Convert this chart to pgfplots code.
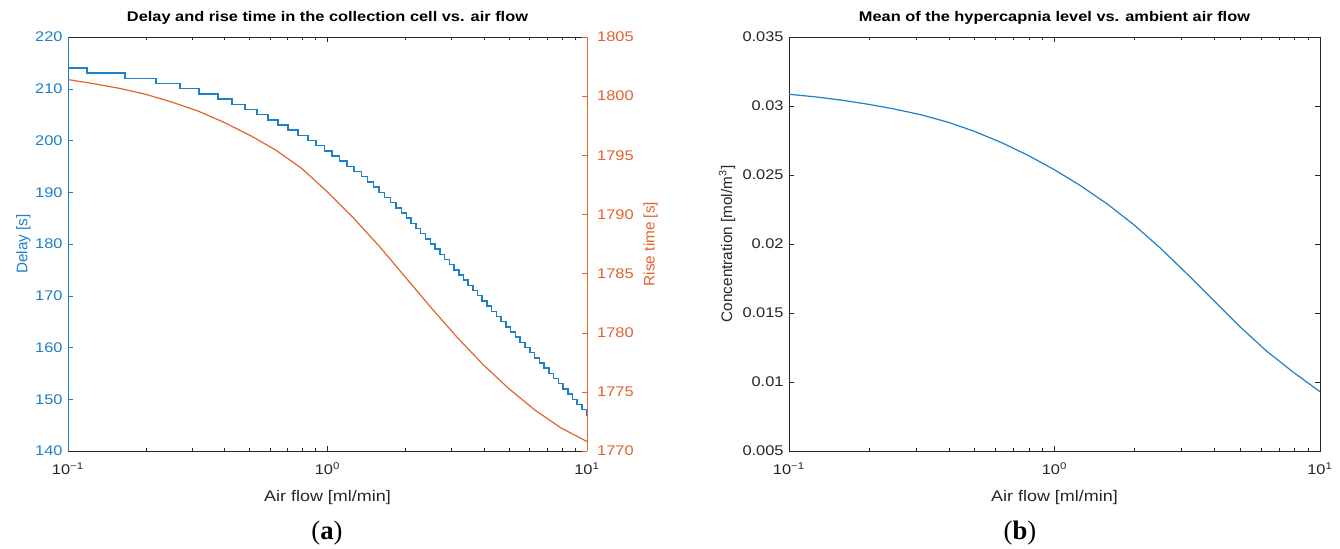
\documentclass[border=0pt]{standalone}
\usepackage{fontspec}
\setmainfont{Liberation Sans}
\newfontfamily\seriffont{Liberation Serif}
\usepackage{pgfplots}
\usepackage{pgfplotstable}
\pgfplotsset{compat=1.18}
\definecolor{mblue}{RGB}{30,128,200}
\definecolor{morange}{RGB}{226,98,48}
\definecolor{axgray}{RGB}{38,38,38}

\pgfplotstableread{
x y
0.1 214
0.1184 213
0.1658 212
0.2183 211
0.2702 210
0.3198 209
0.3785 208
0.4285 207
0.4809 206
0.5350 205
0.5898 204
0.6446 203
0.7044 202
0.7697 201
0.8396 200
0.9030 199
0.9720 198
1.0426 197
1.1123 196
1.1878 195
1.2673 194
1.3521 193
1.4274 192
1.5014 191
1.5792 190
1.6612 189
1.7459 188
1.8365 187
1.9266 186
2.0122 185
2.0997 184
2.1911 183
2.2864 182
2.3858 181
2.4897 180
2.5980 179
2.7110 178
2.8290 177
2.9520 176
3.0778 175
3.2089 174
3.3455 173
3.4849 172
3.6333 171
3.7881 170
3.9460 169
4.1140 168
4.2891 167
4.4718 166
4.6620 165
4.8650 164
5.0766 163
5.2974 162
5.5278 161
5.7685 160
6.0199 159
6.2818 158
6.5550 157
6.8402 156
7.1381 155
7.4421 154
7.7590 153
8.0894 152
8.4338 151
8.7930 150
9.1676 149
9.5493 148
9.9557 147
10 147
}\delaytab

\pgfplotstableread{
x y
0.1 1801.4
0.12589 1801.05
0.15849 1800.65
0.19953 1800.15
0.25119 1799.5
0.31623 1798.75
0.39811 1797.8
0.50119 1796.7
0.63096 1795.45
0.79433 1793.9
1 1791.9
1.2589 1789.7
1.5849 1787.3
1.9953 1784.7
2.5119 1782.1
3.1623 1779.6
3.9811 1777.3
5.0119 1775.25
6.3096 1773.45
7.9433 1771.95
10 1770.8
}\risetab

\pgfplotstableread{
x y
0.1 0.03085
0.12589 0.03066
0.15849 0.03042
0.19953 0.03012
0.25119 0.02977
0.31623 0.02935
0.39811 0.02882
0.50119 0.02815
0.63096 0.02735
0.79433 0.02643
1 0.02538
1.2589 0.02420
1.5849 0.02288
1.9953 0.02138
2.5119 0.01968
3.1623 0.01782
3.9811 0.01590
5.0119 0.01398
6.3096 0.01222
7.9433 0.01070
10 0.0093
}\conctab

\pgfplotsset{
  every tick label/.append style={font=\fontsize{10.5}{12}\selectfont, xscale=1.17},
  every axis label/.append style={font=\fontsize{11.5}{13}\selectfont},
  every axis x label/.append style={xscale=1.17, yshift=-5pt},
  every axis title/.append style={font=\bfseries\fontsize{10.5}{12}\selectfont, xscale=1.17},
  xticklabel style={yshift=-5pt},
}

\begin{document}
\begin{tikzpicture}
\path[use as bounding box] (0,0) rectangle (1005pt,-411.75pt);

% Left: delay
\begin{axis}[
  scale only axis,
  at={(51pt,-27.75pt)}, anchor=north west,
  width=389.25pt, height=310.5pt,
  xmode=log, log basis x=10, xmin=0.1, xmax=10,
  xtick={0.1,1,10},
  xticklabels={10\textsuperscript{−1},10\textsuperscript{0},10\textsuperscript{1}},
  minor xtick={0.2,0.3,0.4,0.5,0.6,0.7,0.8,0.9,2,3,4,5,6,7,8,9},
  tick align=inside, major tick length=3.75pt, minor tick length=2.2pt,
  /pgf/number format/assume math mode=true,
  ymin=140, ymax=220, ytick={140,150,...,220},
  ytick pos=left, xtick pos=both,
  separate axis lines,
  x axis line style={axgray, line width=0.6pt},
  y axis line style={mblue, line width=0.6pt},
  xtick style={axgray}, ytick style={mblue},
  xticklabel style={text=axgray},
  yticklabel style={text=mblue},
  xlabel={Air flow [ml/min]}, xlabel style={text=axgray},
  ylabel={Delay [s]}, ylabel style={text=mblue}, ylabel shift=-4pt,
  title={Delay and rise time in the collection cell vs. air flow},
]
\addplot[const plot, mblue, line width=1.1pt] table {\delaytab};
\end{axis}

% Left: rise time (right y axis)
\begin{axis}[
  scale only axis,
  at={(51pt,-27.75pt)}, anchor=north west,
  width=389.25pt, height=310.5pt,
  xmode=log, log basis x=10, xmin=0.1, xmax=10,
  axis x line=none, axis y line*=right,
  tick align=inside, major tick length=3.75pt,
  /pgf/number format/assume math mode=true,
  /pgf/number format/1000 sep={},
  ymin=1770, ymax=1805, ytick={1770,1775,...,1805},
  y axis line style={morange, line width=0.6pt},
  ytick style={morange},
  yticklabel style={text=morange, xshift=3pt},
  ylabel={Rise time [s]}, ylabel style={text=morange},
]
\addplot[morange, line width=0.9pt] table {\risetab};
\end{axis}

% Right: concentration
\begin{axis}[
  scale only axis,
  at={(591.75pt,-27.75pt)}, anchor=north west,
  width=398.25pt, height=310.5pt,
  xmode=log, log basis x=10, xmin=0.1, xmax=10,
  xtick={0.1,1,10},
  xticklabels={10\textsuperscript{−1},10\textsuperscript{0},10\textsuperscript{1}},
  minor xtick={0.2,0.3,0.4,0.5,0.6,0.7,0.8,0.9,2,3,4,5,6,7,8,9},
  tick align=inside, major tick length=3.75pt, minor tick length=2.2pt,
  ymin=0.005, ymax=0.035, scaled y ticks=false,
  ytick={0.005,0.01,0.015,0.02,0.025,0.03,0.035},
  yticklabels={0.005,0.01,0.015,0.02,0.025,0.03,0.035},
  xtick pos=both, ytick pos=both,
  axis line style={axgray, line width=0.6pt},
  tick style={axgray},
  xticklabel style={text=axgray},
  yticklabel style={text=axgray},
  xlabel={Air flow [ml/min]}, xlabel style={text=axgray},
  ylabel={Concentration [mol/m\textsuperscript{3}]}, ylabel style={text=axgray}, ylabel shift=-2pt,
  title={Mean of the hypercapnia level vs. ambient air flow},
]
\addplot[mblue, line width=0.9pt] table {\conctab};
\end{axis}

\node[font=\seriffont\fontsize{20}{24}\selectfont] at (245.25pt,-399.75pt) {(\textbf{a})};
\node[font=\seriffont\fontsize{20}{24}\selectfont] at (765pt,-399.75pt) {(\textbf{b})};
\end{tikzpicture}
\end{document}
